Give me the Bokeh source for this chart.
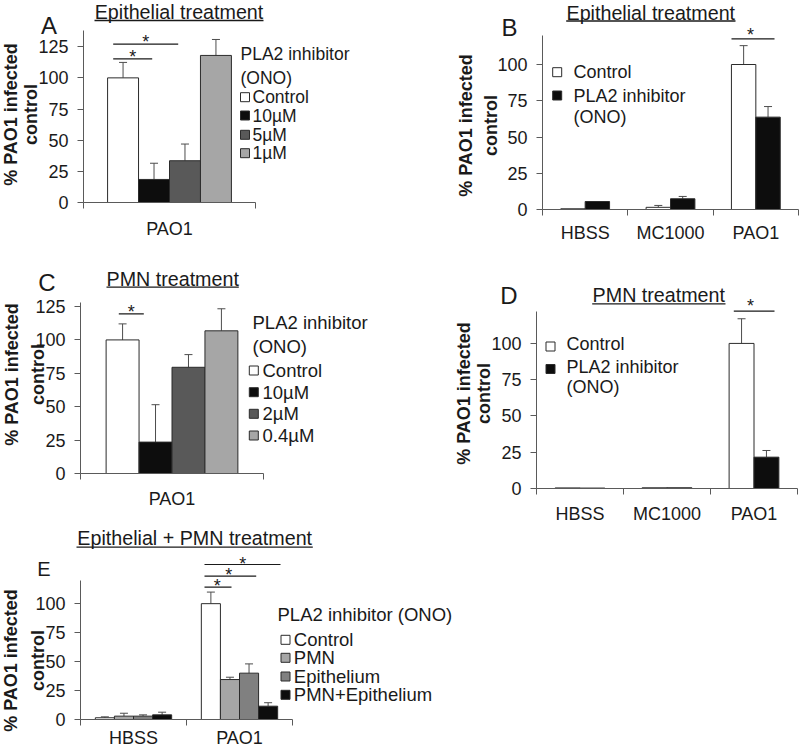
import math
from bokeh.plotting import figure
from bokeh.models import (ColumnDataSource, Range1d, FixedTicker,
                          Label, Whisker, TeeHead, Arrow)
from bokeh.transform import dodge
from bokeh.layouts import column, row
from bokeh.embed import file_html
from bokeh.resources import INLINE

FONT = "Liberation Sans"
TEXT = "#1a1a1a"
AXIS = "#5a5a5a"
EDGE = "#2b2b2b"
ERRC = "#4d4d4d"

# ---------------- data ----------------
A_groups = ["PAO1"]
A_series = ["Control", "10µM", "5µM", "1µM"]
A_values = [100, 18.5, 33.5, 118]
A_errors = [12.4, 13, 13.4, 12.8]
A_colors = ["#ffffff", "#0d0d0d", "#595959", "#a6a6a6"]

B_groups = ["HBSS", "MC1000", "PAO1"]
B_series = ["Control", "PLA2 inhibitor"]
B_control = [0.5, 1.5, 100]
B_control_err = [0, 1.3, 13]
B_ono = [5.5, 7.4, 63.7]
B_ono_err = [0, 1.6, 7.3]
B_colors = ["#ffffff", "#0d0d0d"]

C_groups = ["PAO1"]
C_series = ["Control", "10µM", "2µM", "0.4µM"]
C_values = [100, 23.5, 79.5, 106.8]
C_errors = [12, 28, 9.5, 16.5]
C_colors = ["#ffffff", "#0d0d0d", "#595959", "#a6a6a6"]

D_groups = ["HBSS", "MC1000", "PAO1"]
D_series = ["Control", "PLA2 inhibitor"]
D_control = [0.4, 0.5, 100]
D_control_err = [0, 0, 17]
D_ono = [0.3, 0.5, 21.6]
D_ono_err = [0, 0, 4.6]
D_colors = ["#ffffff", "#0d0d0d"]

E_groups = ["HBSS", "PAO1"]
E_series = ["Control", "PMN", "Epithelium", "PMN+Epithelium"]
E_control = [1.5, 100]
E_control_err = [0.8, 10]
E_pmn = [2.9, 34.5]
E_pmn_err = [2.5, 2]
E_epi = [2.9, 40]
E_epi_err = [1.1, 8]
E_both = [4, 11.5]
E_both_err = [2.3, 3]
E_colors = ["#ffffff", "#a6a6a6", "#808080", "#0d0d0d"]

Y_LABEL_1 = "% PAO1 infected"
Y_LABEL_2 = "control"


# ---------------- helpers ----------------
def make_panel(groups, ymax, yticks, ref, fig_left, fig_top, width, height, x_standoff):
    """One figure per panel; its frame fills the whole canvas and the axes sit at
    fixed data locations (x = 0 and y = 0), bounded to the plot area."""
    rx0, rx1, ry0, ry1 = ref
    n = len(groups)
    kx = n / (rx1 - rx0)
    ky = ymax / (ry1 - ry0)
    x_start = (fig_left - rx0) * kx
    x_end = (fig_left + width - rx0) * kx
    y_start = (ry1 - (fig_top + height)) * ky
    y_end = (ry1 - fig_top) * ky
    p = figure(x_range=Range1d(x_start, x_end), y_range=Range1d(y_start, y_end),
               width=width, height=height, output_backend="svg", toolbar_location=None,
               min_border=0, min_border_left=0, min_border_right=0,
               min_border_top=0, min_border_bottom=0)
    p.outline_line_color = None
    p.xgrid.visible = False
    p.ygrid.visible = False
    p.background_fill_color = "white"
    p.border_fill_color = "white"

    xa = p.xaxis[0]
    xa.fixed_location = 0
    xa.bounds = (0, n)
    xa.ticker = FixedTicker(ticks=[i + 0.5 for i in range(n)], minor_ticks=list(range(n + 1)))
    xa.major_label_overrides = {i + 0.5: g for i, g in enumerate(groups)}
    xa.axis_line_color = AXIS
    xa.axis_line_width = 1
    xa.major_tick_out = 0
    xa.major_tick_in = 0
    xa.major_tick_line_color = None
    xa.minor_tick_out = 6
    xa.minor_tick_in = 0
    xa.minor_tick_line_color = AXIS
    xa.major_label_standoff = x_standoff
    xa.major_label_text_font = FONT
    xa.major_label_text_font_size = "18px"
    xa.major_label_text_color = TEXT

    ya = p.yaxis[0]
    ya.fixed_location = 0
    ya.bounds = (0, ymax)
    ya.ticker = FixedTicker(ticks=yticks)
    ya.axis_line_color = AXIS
    ya.axis_line_width = 1
    ya.major_tick_out = 6
    ya.major_tick_in = 0
    ya.major_tick_line_color = AXIS
    ya.minor_tick_line_color = None
    ya.major_label_standoff = 9
    ya.major_label_text_font = FONT
    ya.major_label_text_font_size = "18px"
    ya.major_label_text_color = TEXT

    X = lambda px: (px - rx0) * kx
    Y = lambda py: (ry1 - py) * ky
    return p, X, Y


def add_bars(p, groups, vals_list, errs_list, colors, offsets, width):
    centers = [i + 0.5 for i in range(len(groups))]
    for vals, errs, col, off in zip(vals_list, errs_list, colors, offsets):
        src = ColumnDataSource(dict(c=centers, g=list(groups), top=list(vals)))
        p.vbar(x=dodge("c", off), top="top", bottom=0, width=width,
               source=src, fill_color=col, line_color=EDGE, line_width=1)
        idx = [i for i, e in enumerate(errs) if e > 0]
        if idx:
            wsrc = ColumnDataSource(dict(base=[centers[i] + off for i in idx],
                                         lower=[vals[i] for i in idx],
                                         upper=[vals[i] + errs[i] for i in idx]))
            p.add_layout(Whisker(source=wsrc, base="base", lower="lower", upper="upper",
                                 dimension="height", line_color=ERRC, line_width=1,
                                 lower_head=None,
                                 upper_head=TeeHead(size=8, line_color=ERRC, line_width=1)))


def txt(p, X, Y, px, py, s, size="18px", align="left", baseline="middle",
        style="normal", angle=0.0):
    p.add_layout(Label(x=X(px), y=Y(py), text=s, text_font=FONT, text_font_size=size,
                       text_color=TEXT, text_align=align, text_baseline=baseline,
                       text_font_style=style, angle=angle))


def hline(p, X, Y, x0, x1, y, w=1.2, color=TEXT):
    p.add_layout(Arrow(x_start=X(x0), y_start=Y(y), x_end=X(x1), y_end=Y(y),
                       start=None, end=None, line_color=color, line_width=w))


def star(p, X, Y, cx, cy):
    txt(p, X, Y, cx, cy + 4.4, "*", size="18px", align="center", baseline="alphabetic")


def title(p, X, Y, cx, cy, s, ux0, ux1, uy):
    txt(p, X, Y, cx, cy, s, size="19.7px", align="center", baseline="middle")
    hline(p, X, Y, ux0, ux1, uy, w=1.3)


def ylabel(p, X, Y, x1, x2, cy):
    txt(p, X, Y, x1, cy, Y_LABEL_1, size="18px", align="center", baseline="middle",
        style="bold", angle=math.pi / 2)
    txt(p, X, Y, x2, cy, Y_LABEL_2, size="18px", align="center", baseline="middle",
        style="bold", angle=math.pi / 2)


def key(p, X, Y, cx, cy, col, size=9):
    p.scatter(x=[X(cx)], y=[Y(cy)], marker="square", size=size, fill_color=col,
              line_color=EDGE, line_width=1)


# ---------------- panel A ----------------
pA, XA, YA = make_panel(A_groups, 138, [0, 25, 50, 75, 100, 125], (83, 255, 30, 202),
                        0, 0, 400, 245, 10)
add_bars(pA, A_groups, [[v] for v in A_values], [[e] for e in A_errors], A_colors,
         [-0.27, -0.09, 0.09, 0.27], 0.18)
title(pA, XA, YA, 178.5, 11.5, "Epithelial treatment", 94, 263, 20)
txt(pA, XA, YA, 48.5, 25, "A", size="24px", align="center")
ylabel(pA, XA, YA, 10.5, 30, 114)
txt(pA, XA, YA, 240, 53, "PLA2 inhibitor", size="17.5px")
txt(pA, XA, YA, 240, 77.7, "(ONO)", size="17.5px")
for s, c, yy in zip(A_series, A_colors, [96.7, 115, 134.3, 152.7]):
    key(pA, XA, YA, 244.5, yy, c)
    txt(pA, XA, YA, 252, yy, s, size="17.5px")
hline(pA, XA, YA, 112.7, 151.7, 58.3)
star(pA, XA, YA, 132.2, 52.5)
hline(pA, XA, YA, 112.7, 177.7, 43.7)
star(pA, XA, YA, 145.2, 37.5)

# ---------------- panel B ----------------
pB, XB, YB = make_panel(B_groups, 120, [0, 25, 50, 75, 100], (542, 798, 35, 209),
                        400, 0, 400, 245, 7)
add_bars(pB, B_groups, [B_control, B_ono], [B_control_err, B_ono_err], B_colors,
         [-0.143, 0.143], 0.286)
title(pB, XB, YB, 650.3, 12, "Epithelial treatment", 565.7, 735, 20.5)
txt(pB, XB, YB, 509, 26.5, "B", size="24px", align="center")
ylabel(pB, XB, YB, 465.5, 490.5, 125)
key(pB, XB, YB, 556.7, 71.7, B_colors[0])
txt(pB, XB, YB, 573, 71.7, B_series[0])
key(pB, XB, YB, 556.7, 95, B_colors[1])
txt(pB, XB, YB, 573, 95, B_series[1])
txt(pB, XB, YB, 573, 116, "(ONO)")
hline(pB, XB, YB, 731, 774, 38.3)
star(pB, XB, YB, 750, 30)

# ---------------- panel C ----------------
pC, XC, YC = make_panel(C_groups, 128, [0, 25, 50, 75, 100, 125], (80, 263, 302, 473),
                        0, 245, 400, 278, 9)
add_bars(pC, C_groups, [[v] for v in C_values], [[e] for e in C_errors], C_colors,
         [-0.27, -0.09, 0.09, 0.27], 0.18)
title(pC, XC, YC, 172.2, 278, "PMN treatment", 106, 238.3, 286.7)
txt(pC, XC, YC, 46.5, 281.5, "C", size="24px", align="center")
ylabel(pC, XC, YC, 11, 37.5, 374)
txt(pC, XC, YC, 252, 322, "PLA2 inhibitor", size="18.5px")
txt(pC, XC, YC, 252, 346, "(ONO)", size="18.5px")
for s, c, yy in zip(C_series, C_colors, [370, 391.7, 413.3, 435]):
    key(pC, XC, YC, 253.3, yy, c)
    txt(pC, XC, YC, 262, yy, s, size="18.5px")
hline(pC, XC, YC, 118.3, 143.3, 313.3)
star(pC, XC, YC, 130.8, 307)

# ---------------- panel D ----------------
pD, XD, YD = make_panel(D_groups, 122, [0, 25, 50, 75, 100], (536, 797, 311, 488),
                        400, 245, 400, 278, 9)
add_bars(pD, D_groups, [D_control, D_ono], [D_control_err, D_ono_err], D_colors,
         [-0.143, 0.143], 0.286)
title(pD, XD, YD, 658.3, 294.3, "PMN treatment", 591.7, 725, 303.3)
txt(pD, XD, YD, 508.5, 294.5, "D", size="24px", align="center")
ylabel(pD, XD, YD, 463.8, 483.8, 393)
key(pD, XD, YD, 550, 346, D_colors[0])
txt(pD, XD, YD, 566, 343.3, D_series[0])
key(pD, XD, YD, 550, 368.5, D_colors[1])
txt(pD, XD, YD, 566, 366, D_series[1])
txt(pD, XD, YD, 566, 386.7, "(ONO)")
hline(pD, XD, YD, 733.3, 774, 310.7)
star(pD, XD, YD, 750, 301.5)

# ---------------- panel E ----------------
pE, XE, YE = make_panel(E_groups, 120, [0, 25, 50, 75, 100], (80, 292, 580, 719),
                        0, 523, 800, 225, 2)
add_bars(pE, E_groups, [E_control, E_pmn, E_epi, E_both],
         [E_control_err, E_pmn_err, E_epi_err, E_both_err], E_colors,
         [-0.27, -0.09, 0.09, 0.27], 0.18)
title(pE, XE, YE, 194.2, 537.7, "Epithelial + PMN treatment", 76, 312.3, 546.7)
txt(pE, XE, YE, 43.5, 568.5, "E", size="20px", align="center")
ylabel(pE, XE, YE, 10.5, 37, 660)
txt(pE, XE, YE, 277, 614, "PLA2 inhibitor (ONO)", size="18.5px")
for s, c, yy in zip(E_series, E_colors, [639.3, 657.3, 676, 694.3]):
    key(pE, XE, YE, 285, yy, c)
    txt(pE, XE, YE, 293.3, yy, s, size="18.5px")
for (x0, x1, yl), (sx, sy) in zip([(204, 231, 586.7), (204, 255.7, 575.7), (204, 280, 564)],
                                  [(216.7, 581.5), (228.3, 570), (242.3, 559)]):
    hline(pE, XE, YE, x0, x1, yl)
    star(pE, XE, YE, sx, sy)

layout = column(row(pA, pB), row(pC, pD), pE)
open("out.html", "w").write(file_html(layout, INLINE))
